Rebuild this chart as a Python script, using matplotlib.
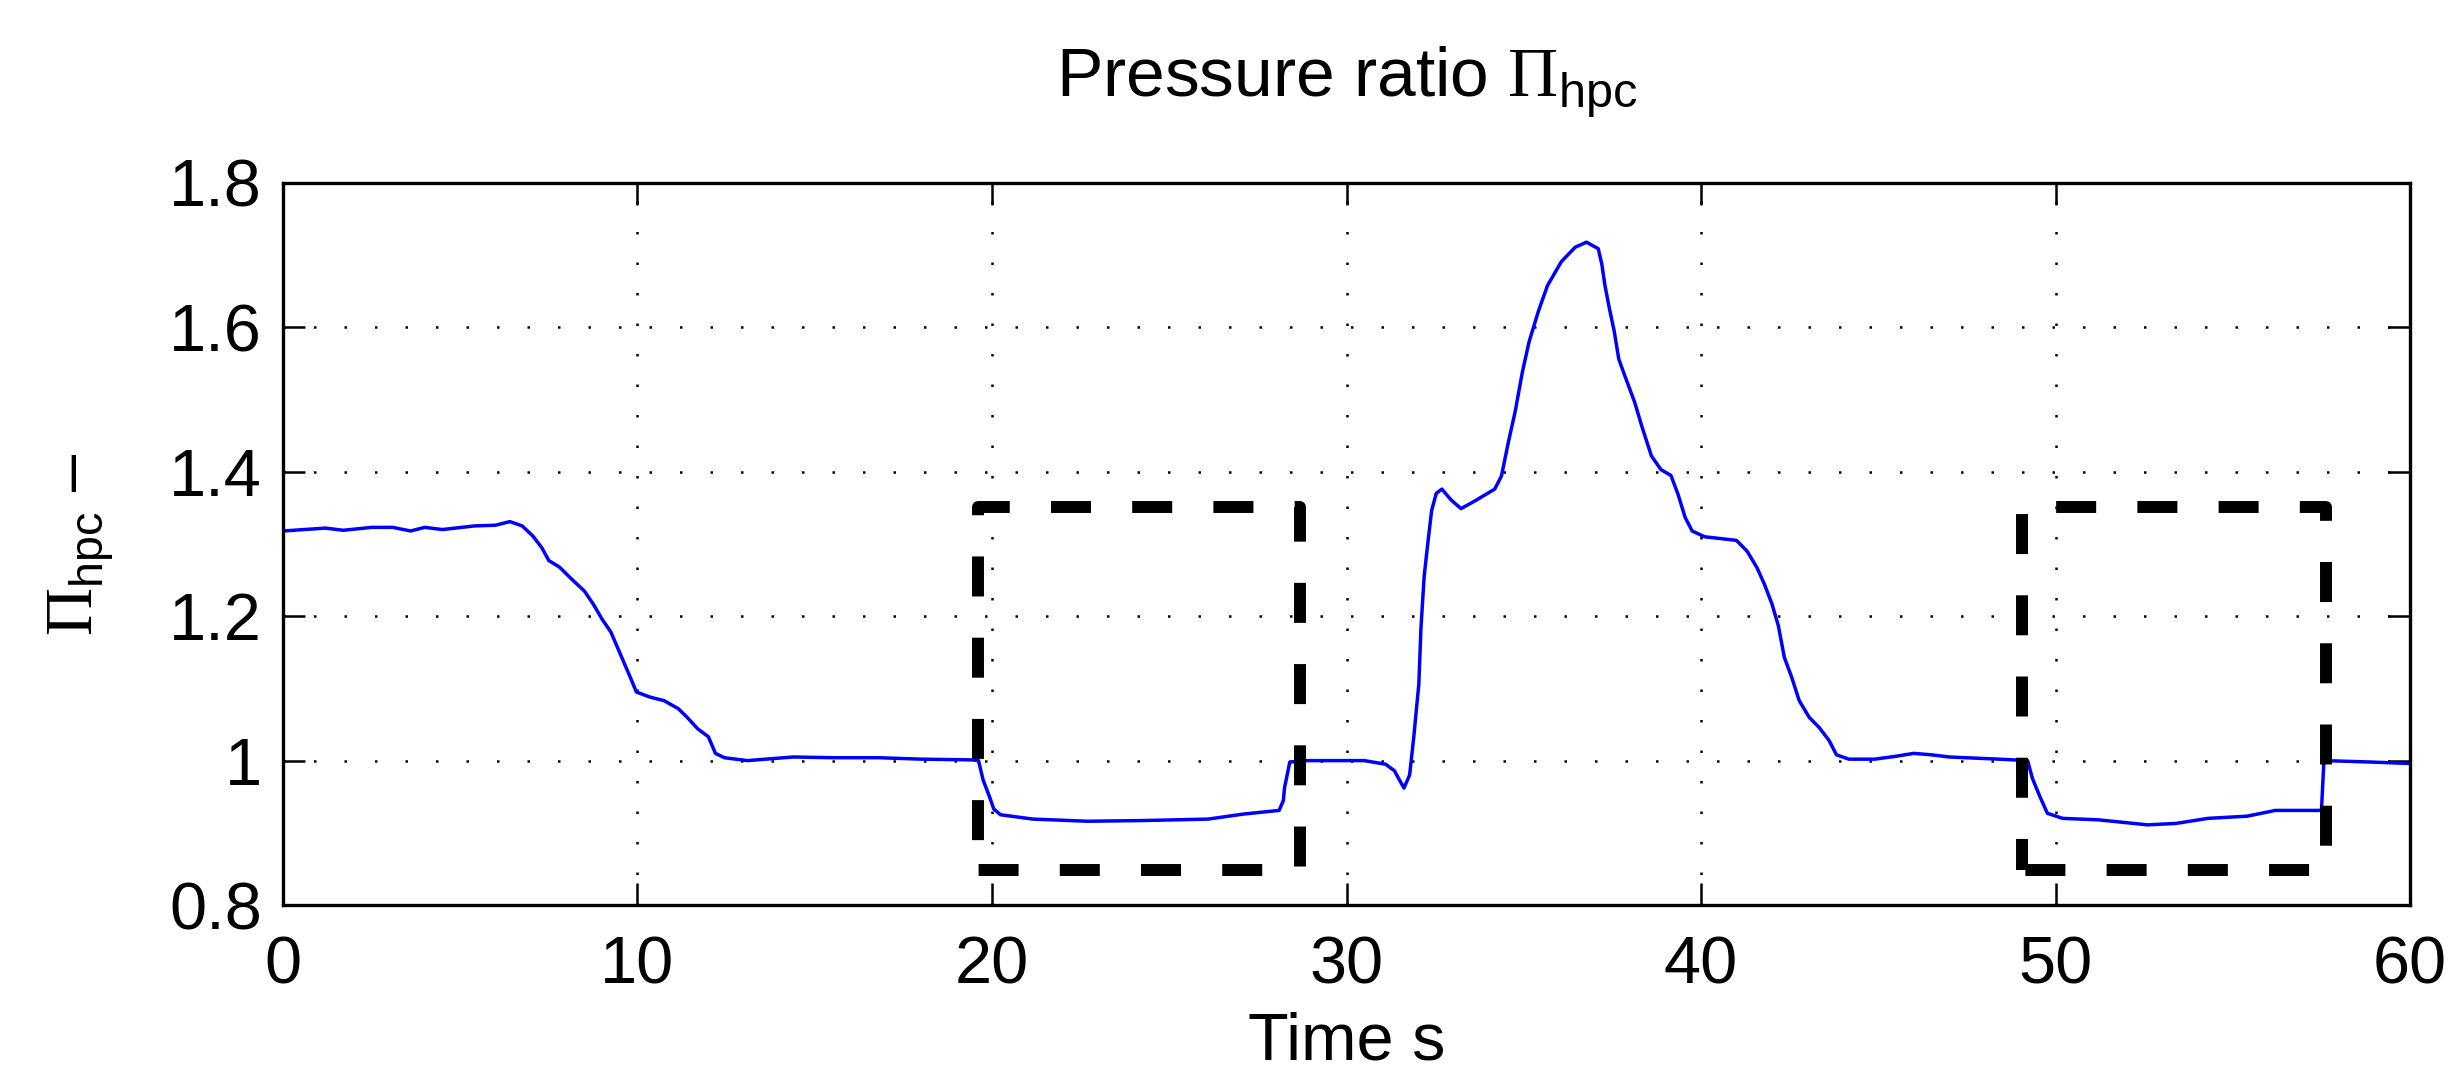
import matplotlib
matplotlib.use("Agg")
import matplotlib.pyplot as plt

plt.rcParams['font.family'] = ['Liberation Sans', 'DejaVu Sans']
plt.rcParams['mathtext.fontset'] = 'custom'
plt.rcParams['mathtext.rm'] = 'Liberation Serif'
plt.rcParams['mathtext.sf'] = 'Liberation Sans'

# time s
time_s = [0.0, 0.6, 1.2, 1.7, 2.5, 3.1, 3.6, 4.0, 4.5, 5.4, 6.0, 6.4, 6.75, 7.05, 7.3,
          7.5, 7.8, 8.15, 8.5, 8.75, 9.0, 9.25, 9.4, 9.6, 9.8, 9.97, 10.35, 10.75,
          11.15, 11.4, 11.7, 12.0, 12.2, 12.45, 13.1, 14.4, 15.5, 16.8, 18.0, 19.45,
          19.62, 19.75, 19.93, 20.05, 20.24, 21.15, 22.7, 24.3, 26.1, 27.1, 28.1,
          28.22, 28.25, 28.4, 28.9, 30.5, 31.1, 31.35, 31.62, 31.78, 31.9, 32.04,
          32.1, 32.19, 32.3, 32.4, 32.53, 32.69, 32.95, 33.23, 33.6, 34.18, 34.37,
          34.57, 34.76, 34.96, 35.15, 35.41, 35.67, 36.06, 36.45, 36.77, 37.1, 37.2,
          37.29, 37.42, 37.55, 37.68, 37.88, 38.13, 38.33, 38.6, 38.87, 39.15, 39.35,
          39.55, 39.75, 40.1, 41.0, 41.3, 41.58, 41.79, 42.0, 42.18, 42.35, 42.56,
          42.77, 43.05, 43.33, 43.61, 43.82, 44.17, 44.9, 45.5, 46.0, 46.5, 47.0,
          48.4, 49.21, 49.35, 49.56, 49.77, 50.2, 51.2, 52.6, 53.4, 54.3, 55.4, 56.2,
          57.5, 57.57, 58.9, 60.0]
# pressure ratio
pi_hpc = [1.318, 1.320, 1.322, 1.319, 1.323, 1.323, 1.318, 1.323, 1.320, 1.325, 1.326,
          1.331, 1.325, 1.311, 1.295, 1.277, 1.268, 1.251, 1.235, 1.217, 1.196, 1.178,
          1.161, 1.138, 1.115, 1.095, 1.088, 1.083, 1.072, 1.060, 1.044, 1.033, 1.010,
          1.004, 1.000, 1.005, 1.004, 1.004, 1.002, 1.001, 1.000, 0.973, 0.950, 0.933,
          0.925, 0.919, 0.916, 0.917, 0.919, 0.926, 0.931, 0.945, 0.962, 0.998, 1.000,
          1.000, 0.995, 0.986, 0.962, 0.980, 1.034, 1.106, 1.184, 1.255, 1.304, 1.346,
          1.370, 1.376, 1.361, 1.349, 1.359, 1.376, 1.394, 1.442, 1.484, 1.538, 1.580,
          1.622, 1.658, 1.691, 1.711, 1.718, 1.709, 1.688, 1.658, 1.625, 1.595, 1.556,
          1.529, 1.496, 1.463, 1.422, 1.403, 1.395, 1.369, 1.337, 1.318, 1.310, 1.305,
          1.290, 1.267, 1.244, 1.217, 1.187, 1.143, 1.115, 1.083, 1.060, 1.046, 1.028,
          1.008, 1.002, 1.002, 1.006, 1.010, 1.008, 1.005, 1.002, 1.000, 0.975, 0.950,
          0.927, 0.920, 0.918, 0.911, 0.913, 0.920, 0.923, 0.931, 0.931, 1.000, 0.998,
          0.996]

# highlighted windows (t0, t1, lo, hi)
box1 = [19.6, 28.7, 0.849, 1.351]
box2 = [49.06, 57.62, 0.849, 1.351]

fig = plt.figure(figsize=(24.54, 10.70), dpi=100)
ax = fig.add_axes([0.1153, 0.1542, 0.8668, 0.6748])

ax.plot(time_s, pi_hpc, color=(0, 0, 1), linewidth=2.5)

def draw_box(b, offset):
    t0, t1, lo, hi = b
    ax.plot([t0, t0, t1, t1, t0], [lo, hi, hi, lo, lo], color='black',
            linewidth=8.6, linestyle=(offset, (3.35, 3.45)),
            dash_capstyle='butt', solid_joinstyle='miter')

draw_box(box1, 4.3)
draw_box(box2, 0.75)

ax.set_xlim(0, 60)
ax.set_ylim(0.8, 1.8)
ax.set_xticks([0, 10, 20, 30, 40, 50, 60])
ax.set_yticks([0.8, 1.0, 1.2, 1.4, 1.6, 1.8])
ax.set_yticklabels(['0.8', '1', '1.2', '1.4', '1.6', '1.8'])

ax.grid(True, color='black', linestyle=(0, (1, 11.2)), linewidth=1.8)
ax.tick_params(direction='in', length=16, width=1.8, top=True, right=True,
               labelsize=48)
ax.tick_params(axis='x', pad=22)
ax.tick_params(axis='y', pad=15)
for s in ax.spines.values():
    s.set_linewidth(2.4)

ax.set_title(r'Pressure ratio $\Pi_{\mathsf{hpc}}$', fontsize=50, pad=62)
ax.set_xlabel('Time s', fontsize=48, labelpad=10)
ax.set_ylabel(r'$\Pi_{\mathsf{hpc}}$ –', fontsize=48, labelpad=38)

fig.savefig('out.png', dpi=100)
